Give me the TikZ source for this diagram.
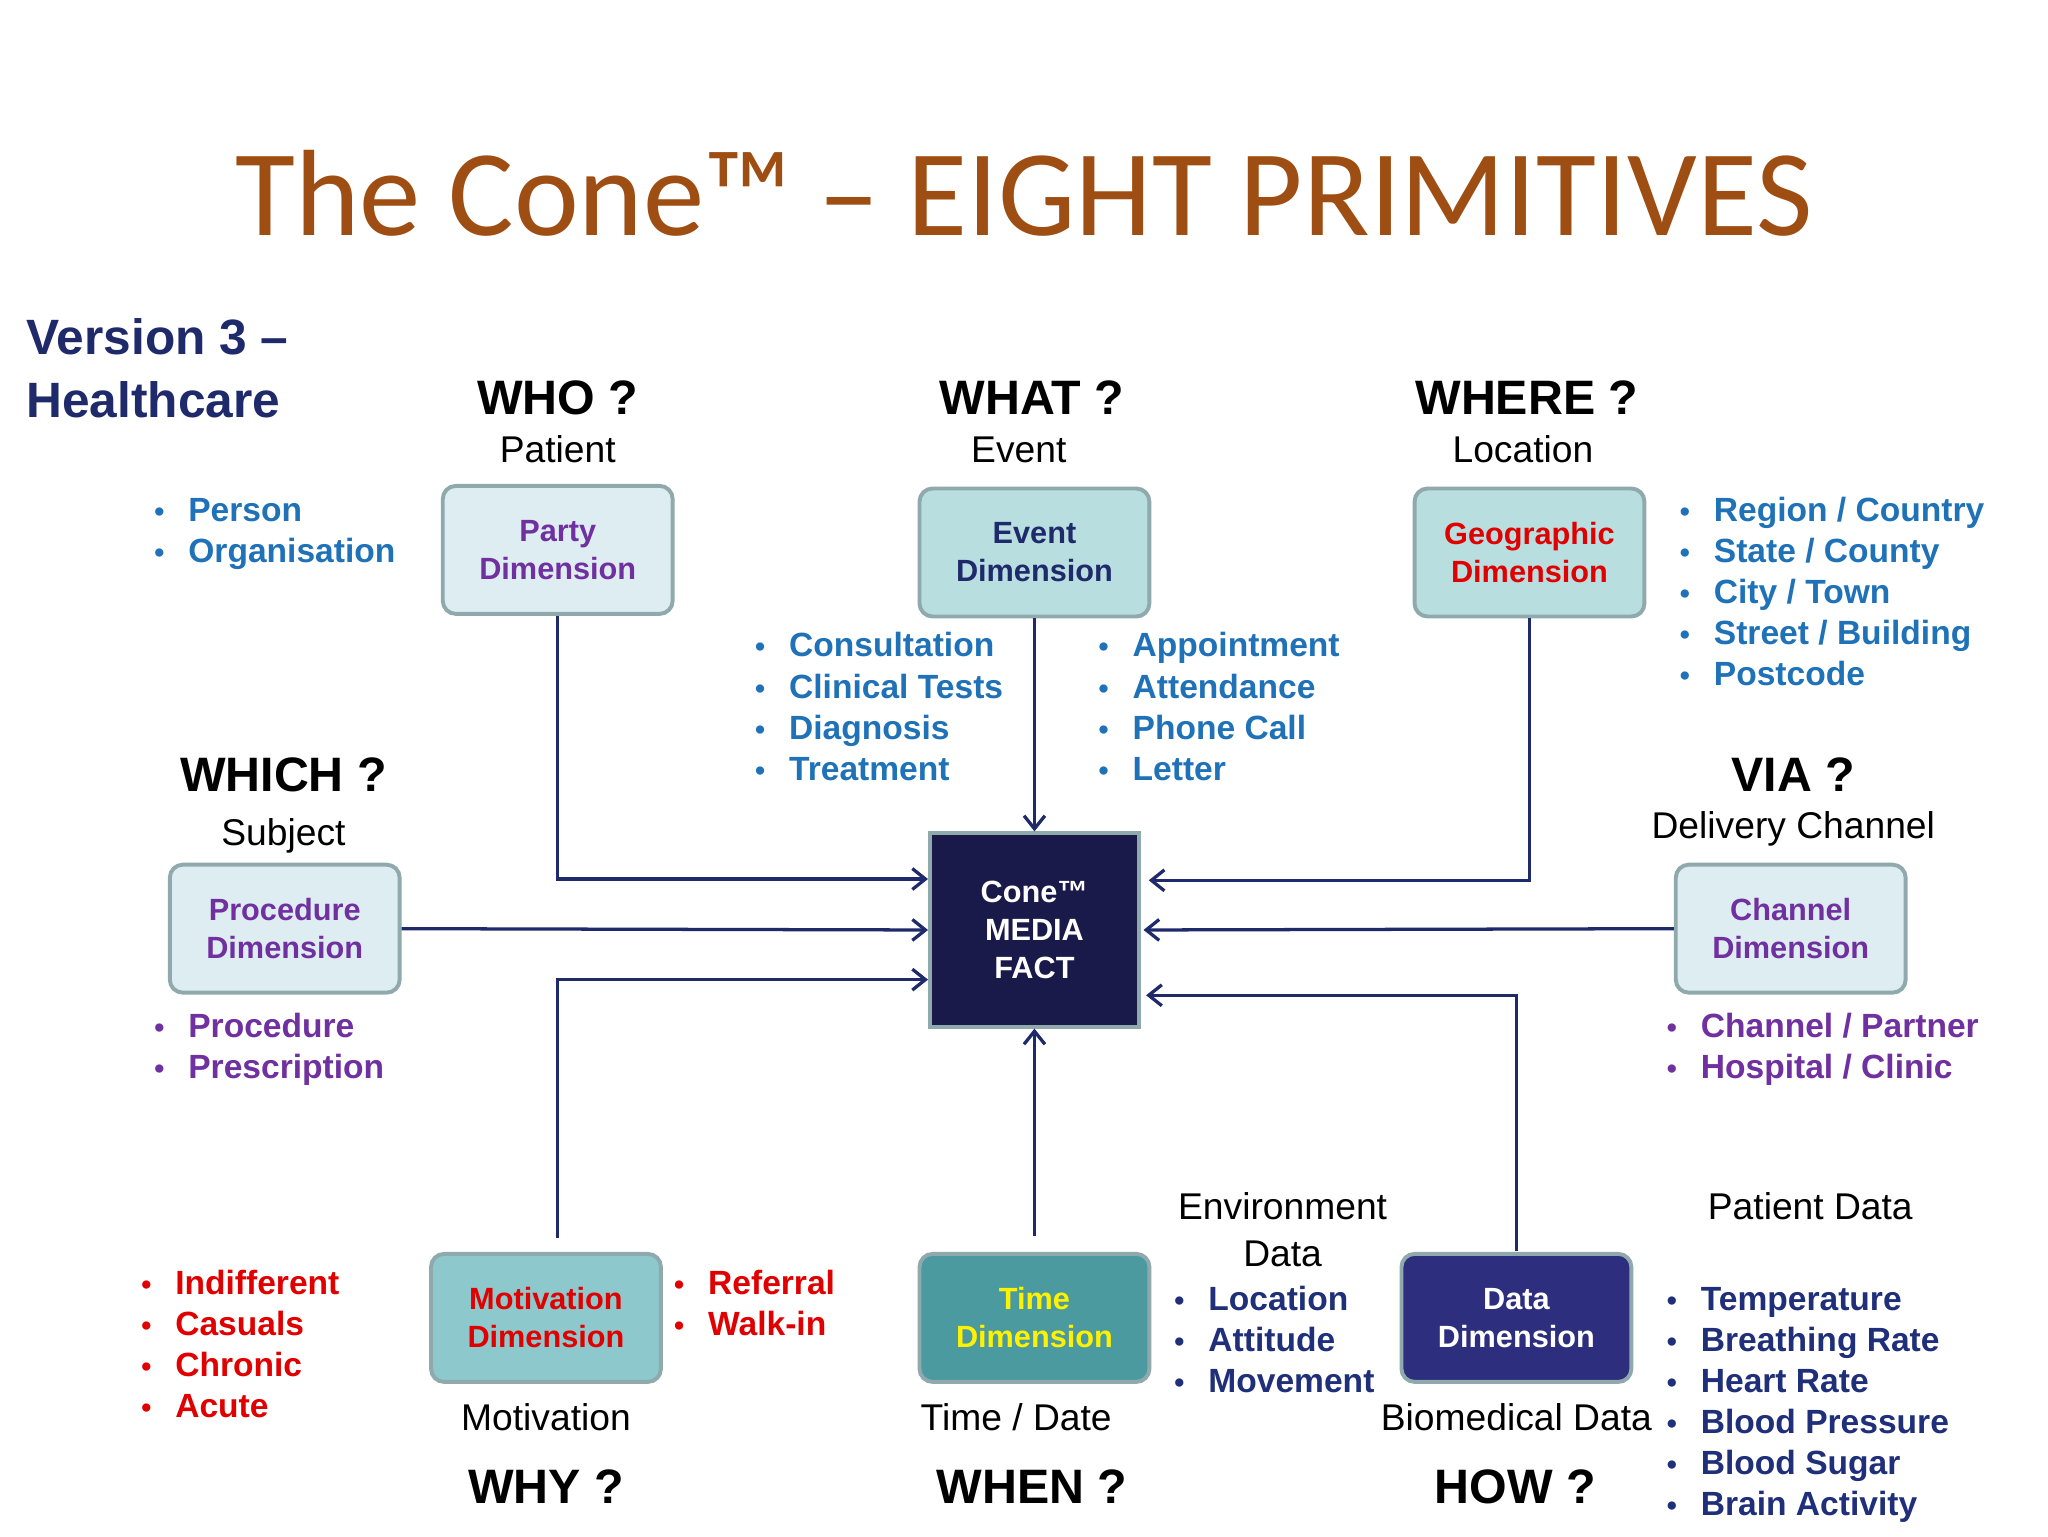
\documentclass[tikz,border=0pt]{standalone}
\usepackage{fontspec}
\setmainfont{Liberation Sans}
\newfontfamily\titlefont{Carlito}
\usetikzlibrary{arrows.meta}
\definecolor{navy}{HTML}{1F2A6B}
\definecolor{hblue}{HTML}{1F72B8}
\definecolor{hpurp}{HTML}{7030A0}
\definecolor{hred}{HTML}{E00000}
\definecolor{hnavy}{HTML}{1F2F7A}
\definecolor{brown}{HTML}{9E4E12}
\definecolor{bxedge}{HTML}{8FA9AD}
\begin{document}
\begin{tikzpicture}[x=1pt,y=-1pt,
 box/.style={rounded corners=10pt,draw=bxedge,line width=3pt,minimum width=176pt,minimum height=98pt,align=center,font=\fontsize{23.5}{29}\selectfont\bfseries},
 head/.style={font=\fontsize{37}{40}\selectfont\bfseries,anchor=base},
 sub/.style={font=\fontsize{28.5}{34}\selectfont,anchor=base},
 li/.style={font=\fontsize{25.7}{30}\selectfont\bfseries,anchor=base west,inner sep=0pt},
 conn/.style={draw=navy,line width=2.5pt,-{Straight Barb[length=10pt,width=16pt,line width=2.5pt]}}]
\useasboundingbox (0,0) rectangle (1568,1176);
\fill[white] (0,0) rectangle (1568,1176);
\node[font=\titlefont\fontsize{94}{100}\selectfont,text=brown,anchor=base] (title) at (784,180) {The Cone™ – EIGHT PRIMITIVES};
\node[font=\fontsize{38}{48}\selectfont\bfseries,text=navy,align=left,anchor=north west,inner sep=0pt] (ver) at (20,244) {Version 3 –\\Healthcare};

\node[box,fill={rgb,255:red,222;green,237;blue,242},text=hpurp] (party) at (427,421) {Party\\Dimension};
\node[box,fill={rgb,255:red,184;green,222;blue,224},text=navy] (event) at (792,423) {Event\\Dimension};
\node[box,fill={rgb,255:red,184;green,222;blue,224},text=hred] (geo) at (1171,423) {Geographic\\Dimension};
\node[box,fill={rgb,255:red,222;green,237;blue,242},text=hpurp] (proc) at (218,711) {Procedure\\Dimension};
\node[box,fill={rgb,255:red,222;green,237;blue,242},text=hpurp] (chan) at (1371,711) {Channel\\Dimension};
\node[box,fill={rgb,255:red,140;green,200;blue,204},text=hred] (mot) at (418,1009) {Motivation\\Dimension};
\node[box,fill={rgb,255:red,74;green,154;blue,160},text=yellow] (time) at (792,1009) {Time\\Dimension};
\node[box,fill={rgb,255:red,46;green,46;blue,126},text=white] (data) at (1161,1009) {Data\\Dimension};
\node[draw=bxedge,line width=3pt,fill={rgb,255:red,26;green,26;blue,74},text=white,minimum width=160pt,minimum height=148pt,align=center,font=\fontsize{23.5}{29}\selectfont\bfseries] (fact) at (792,712) {Cone™\\MEDIA\\FACT};

\coordinate (m1) at (427,948);
\coordinate (t1) at (792,946);
\coordinate (d1) at (1161,958);
\draw[conn] (party.south) |- ([yshift=39pt]fact.west);
\draw[conn] (event.south) -- (fact.north);
\draw[conn] (geo.south) |- ([xshift=6pt,yshift=38pt]fact.east);
\draw[conn] (proc.east) -- (fact.west);
\draw[conn] (chan.west) -- ([xshift=2pt]fact.east);
\draw[conn] (m1) |- ([yshift=-38pt]fact.west);
\draw[conn] (t1) -- (fact.south);
\draw[conn] (d1) |- ([xshift=4pt,yshift=-50pt]fact.east);

\node[head] (who) at (427,317) {WHO ?};
\node[sub] (pat) at (427,354) {Patient};
\node[head] (what) at (790,317) {WHAT ?};
\node[sub] (ev) at (780,354) {Event};
\node[head] (where) at (1169,317) {WHERE ?};
\node[sub] (loc) at (1166,354) {Location};
\node[head] (which) at (217,606) {WHICH ?};
\node[sub] (subj) at (217,647) {Subject};
\node[head] (via) at (1373,606) {VIA ?};
\node[sub] (dc) at (1373,642) {Delivery Channel};
\node[sub] (env1) at (982,934) {Environment};
\node[sub] (env2) at (982,970) {Data};
\node[sub] (pd) at (1386,934) {Patient Data};
\node[sub] (motl) at (418,1095) {Motivation};
\node[sub] (tdl) at (778,1095) {Time / Date};
\node[sub] (bio) at (1161,1095) {Biomedical Data};
\node[head] (why) at (418,1151) {WHY ?};
\node[head] (when) at (790,1151) {WHEN ?};
\node[head] (how) at (1160,1151) {HOW ?};

\newcommand{\blist}[5]{% x, y0, step, color, list
 \foreach \t [count=\i from 0] in {#5}{
  \node[li,text=#4] at (#1,#2+\i*#3) {\makebox[26pt][l]{\fontsize{22}{22}\selectfont\textbullet}\t};}}
\blist{118}{399}{31.5}{hblue}{Person,Organisation}
\blist{578}{503}{31.5}{hblue}{Consultation,Clinical Tests,Diagnosis,Treatment}
\blist{841}{503}{31.5}{hblue}{Appointment,Attendance,Phone Call,Letter}
\blist{1286}{399}{31.5}{hblue}{Region / Country,State / County,City / Town,Street / Building,Postcode}
\blist{118}{794}{31.5}{hpurp}{Procedure,Prescription}
\blist{1276}{794}{31.5}{hpurp}{Channel / Partner,Hospital / Clinic}
\blist{108}{991}{31.3}{hred}{Indifferent,Casuals,Chronic,Acute}
\blist{516}{991}{31.5}{hred}{Referral,Walk-in}
\blist{899}{1003}{31.5}{hnavy}{Location,Attitude,Movement}
\blist{1276}{1003}{31.4}{hnavy}{Temperature,Breathing Rate,Heart Rate,Blood Pressure,Blood Sugar,Brain Activity}
\end{tikzpicture}
\end{document}
